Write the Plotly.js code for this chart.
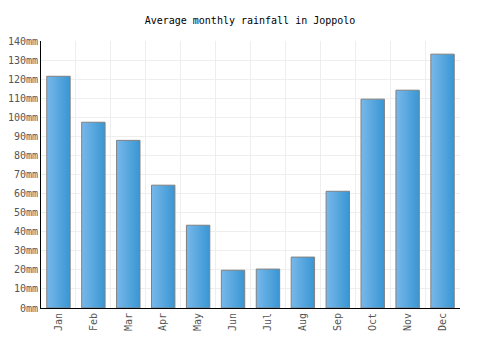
<!DOCTYPE html>
<html>
<head>
<meta charset="utf-8">
<script src="https://cdn.plot.ly/plotly-3.0.1.min.js"></script>
<style>html,body{margin:0;padding:0;background:#fff;}#chart{width:500px;height:350px;}</style>
</head>
<body>
<div id="chart"></div>
<script>
const months = ["Jan","Feb","Mar","Apr","May","Jun","Jul","Aug","Sep","Oct","Nov","Dec"];
const rainfall = [121.5, 97.4, 87.9, 64.4, 43.4, 19.8, 20.4, 26.7, 61.2, 109.5, 114.2, 133.1];
const yTicks = [0,10,20,30,40,50,60,70,80,90,100,110,120,130,140];

const font = "DejaVu Sans Mono, monospace";
const trace = {
  type: "bar",
  x: months,
  y: rainfall,
  width: 0.67,
  marker: {color: "#57a7e0", line: {color: "#808080", width: 1}},
  hoverinfo: "none"
};
const layout = {
  width: 500, height: 350,
  margin: {l: 41, r: 40, t: 41, b: 42},
  paper_bgcolor: "#fff", plot_bgcolor: "#fff",
  showlegend: false,
  title: {text: "Average monthly rainfall in Joppolo", font: {family: font, size: 10, color: "#000"}, x: 0.5, xanchor: "center", y: 0.942, yanchor: "middle"},
  xaxis: {
    type: "category",
    tickson: "boundaries",
    showgrid: true, gridcolor: "#eeeeee", gridwidth: 1,
    showline: true, linecolor: "#000", linewidth: 1,
    ticks: "", tickangle: -90,
    tickfont: {family: font, size: 10, color: "#555"},
    mirror: false,
    range: [-0.5, 11.5]
  },
  yaxis: {
    range: [0, 140],
    tickvals: yTicks,
    ticktext: yTicks.map(v => v + "mm"),
    showgrid: true, gridcolor: "#eeeeee", gridwidth: 1,
    showline: true, linecolor: "#000", linewidth: 1,
    zeroline: false,
    ticks: "",
    tickfont: {family: font, size: 10, color: "#555"}
  }
};
Plotly.newPlot("chart", [trace], layout, {staticPlot: true}).then(function(gd){
  const svg = gd.querySelector("svg.main-svg");
  const ns = "http://www.w3.org/2000/svg";
  let defs = svg.querySelector("defs");
  if (!defs) { defs = document.createElementNS(ns, "defs"); svg.insertBefore(defs, svg.firstChild); }
  const grad = document.createElementNS(ns, "linearGradient");
  grad.setAttribute("id", "barGrad");
  grad.setAttribute("x1", "0"); grad.setAttribute("y1", "0");
  grad.setAttribute("x2", "1"); grad.setAttribute("y2", "0");
  [["0%", "#78b8ea"], ["100%", "#3896d3"]].forEach(function(s){
    const st = document.createElementNS(ns, "stop");
    st.setAttribute("offset", s[0]); st.setAttribute("stop-color", s[1]);
    grad.appendChild(st);
  });
  defs.appendChild(grad);
  gd.querySelectorAll(".bars .point path").forEach(function(p){
    p.style.fill = "url(#barGrad)";
  });
});
</script>
</body>
</html>
